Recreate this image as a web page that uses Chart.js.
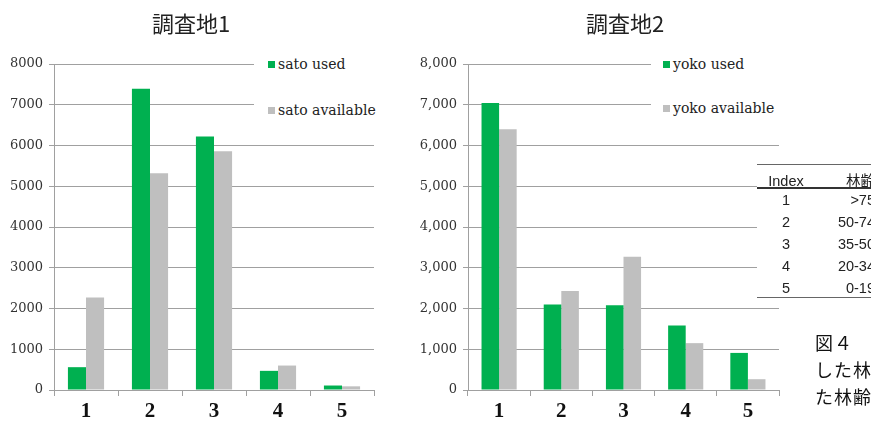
<!DOCTYPE html>
<html>
<head>
<meta charset="utf-8">
<script src="https://cdn.jsdelivr.net/npm/chart.js@4.4.1/dist/chart.umd.min.js"></script>
<style>
  html, body { margin: 0; padding: 0; background: #fff; }
  #page { position: relative; width: 871px; height: 421px; overflow: hidden; }
  canvas { position: absolute; top: 0; }
  .title { position: absolute; top: 8px; font: 22px "Noto Sans CJK JP"; color: #222; transform: translateX(-50%); white-space: nowrap; line-height: 28px; }
  .legend { position: absolute; top: 50px; width: 140px; height: 72px; background: #fff; font: 14px "DejaVu Serif"; color: #222; }
  .legend div { position: absolute; line-height: 16px; white-space: nowrap; }
  .legend i { display: inline-block; width: 7px; height: 7px; margin-right: 3px; vertical-align: 1px; }
  #table { position: absolute; left: 757px; top: 164px; width: 120px; height: 132px; background: #fff;
           font: 14.5px "Liberation Sans", "Noto Sans CJK JP"; color: #222;
           border-top: 1px solid #666; border-bottom: 1px solid #666; }
  #table div { position: absolute; line-height: 18px; white-space: nowrap; }
  #table .c1 { left: 0; width: 58px; text-align: center; }
  #table .c2 { left: 58px; width: 60px; text-align: right; }
  #table .rule { left: 0; width: 120px; height: 2px; top: 22px; background: #333; }
  #caption { position: absolute; left: 815px; top: 329px; font: 18px "Noto Sans CJK JP"; line-height: 27px; color: #111; white-space: nowrap; letter-spacing: 1px; }
</style>
</head>
<body>
<div id="page">
  <canvas id="c1" width="390" height="427" style="left:0"></canvas>
  <canvas id="c2" width="410" height="427" style="left:420px"></canvas>
  <div class="title" style="left:191px">調査地1</div>
  <div class="title" style="left:625px">調査地2</div>
  <div class="legend" id="leg1" style="left:254px"></div>
  <div class="legend" id="leg2" style="left:651px"></div>
  <div id="table"></div>
  <div id="caption">図４<br>した林<br>た林齢</div>
</div>
<script>
const categories = ['1', '2', '3', '4', '5'];
const satoUsed = [560, 7390, 6220, 470, 110];
const satoAvailable = [2270, 5320, 5860, 600, 90];
const yokoUsed = [7040, 2100, 2080, 1580, 910];
const yokoAvailable = [6400, 2430, 3270, 1150, 265];
const satoNames = ['sato used', 'sato available'];
const yokoNames = ['yoko used', 'yoko available'];
const yMax = 8000;
const yStep = 1000;

// table beside the second chart
const tableHead = ['Index', '林齢'];
const tableIndex = ['1', '2', '3', '4', '5'];
const tableAges = ['>75', '50-74', '35-50', '20-34', '0-19'];

const GREEN = '#00b050';
const GREY = '#bfbfbf';
const GRID = '#a0a0a0';

function barChart(id, names, used, available, axisWidth, padRight, withComma) {
  return new Chart(document.getElementById(id), {
    type: 'bar',
    data: {
      labels: categories,
      datasets: [
        { label: names[0], data: used, backgroundColor: GREEN },
        { label: names[1], data: available, backgroundColor: GREY }
      ]
    },
    options: {
      responsive: false,
      animation: false,
      layout: { padding: { top: 64, right: padRight, bottom: 0, left: 0 } },
      plugins: { legend: { display: false }, tooltip: { enabled: false } },
      datasets: { bar: { categoryPercentage: 0.565, barPercentage: 1 } },
      scales: {
        x: {
          grid: { drawOnChartArea: false, tickLength: 6, color: GRID, offset: true },
          border: { color: GRID },
          ticks: { padding: 5, color: '#111', font: { family: 'Liberation Serif', size: 21, weight: 'bold', lineHeight: 1 } }
        },
        y: {
          min: 0, max: yMax,
          afterFit: s => { s.width = axisWidth; },
          grid: { color: GRID, tickLength: 5 },
          border: { color: GRID },
          ticks: {
            stepSize: yStep, padding: 6, color: '#333',
            font: { family: 'DejaVu Serif', size: 13 },
            callback: v => withComma ? v.toLocaleString('en-US') : String(v)
          }
        }
      }
    }
  });
}

function legend(id, names, markerLeft, tops) {
  const box = document.getElementById(id);
  [GREEN, GREY].forEach((c, i) => {
    const d = document.createElement('div');
    d.style.left = markerLeft + 'px';
    d.style.top = tops[i] + 'px';
    d.innerHTML = '<i style="background:' + c + '"></i>' + names[i];
    box.appendChild(d);
  });
}

function table() {
  const t = document.getElementById('table');
  let html = '<div class="c1" style="top:7px">' + tableHead[0] + '</div>' +
             '<div class="c2" style="top:7px">' + tableHead[1] + '</div>' +
             '<div class="rule"></div>';
  tableIndex.forEach((ix, i) => {
    const top = 26 + 22 * i;
    html += '<div class="c1" style="top:' + top + 'px">' + ix + '</div>' +
            '<div class="c2" style="top:' + top + 'px">' + tableAges[i].replace('>', '&gt;') + '</div>';
  });
  t.innerHTML = html;
}

barChart('c1', satoNames, satoUsed, satoAvailable, 54, 16, false);
barChart('c2', yokoNames, yokoUsed, yokoAvailable, 48, 51, true);
legend('leg1', satoNames, 14, [6, 52]);
legend('leg2', yokoNames, 12, [6, 50]);
table();
</script>
</body>
</html>
